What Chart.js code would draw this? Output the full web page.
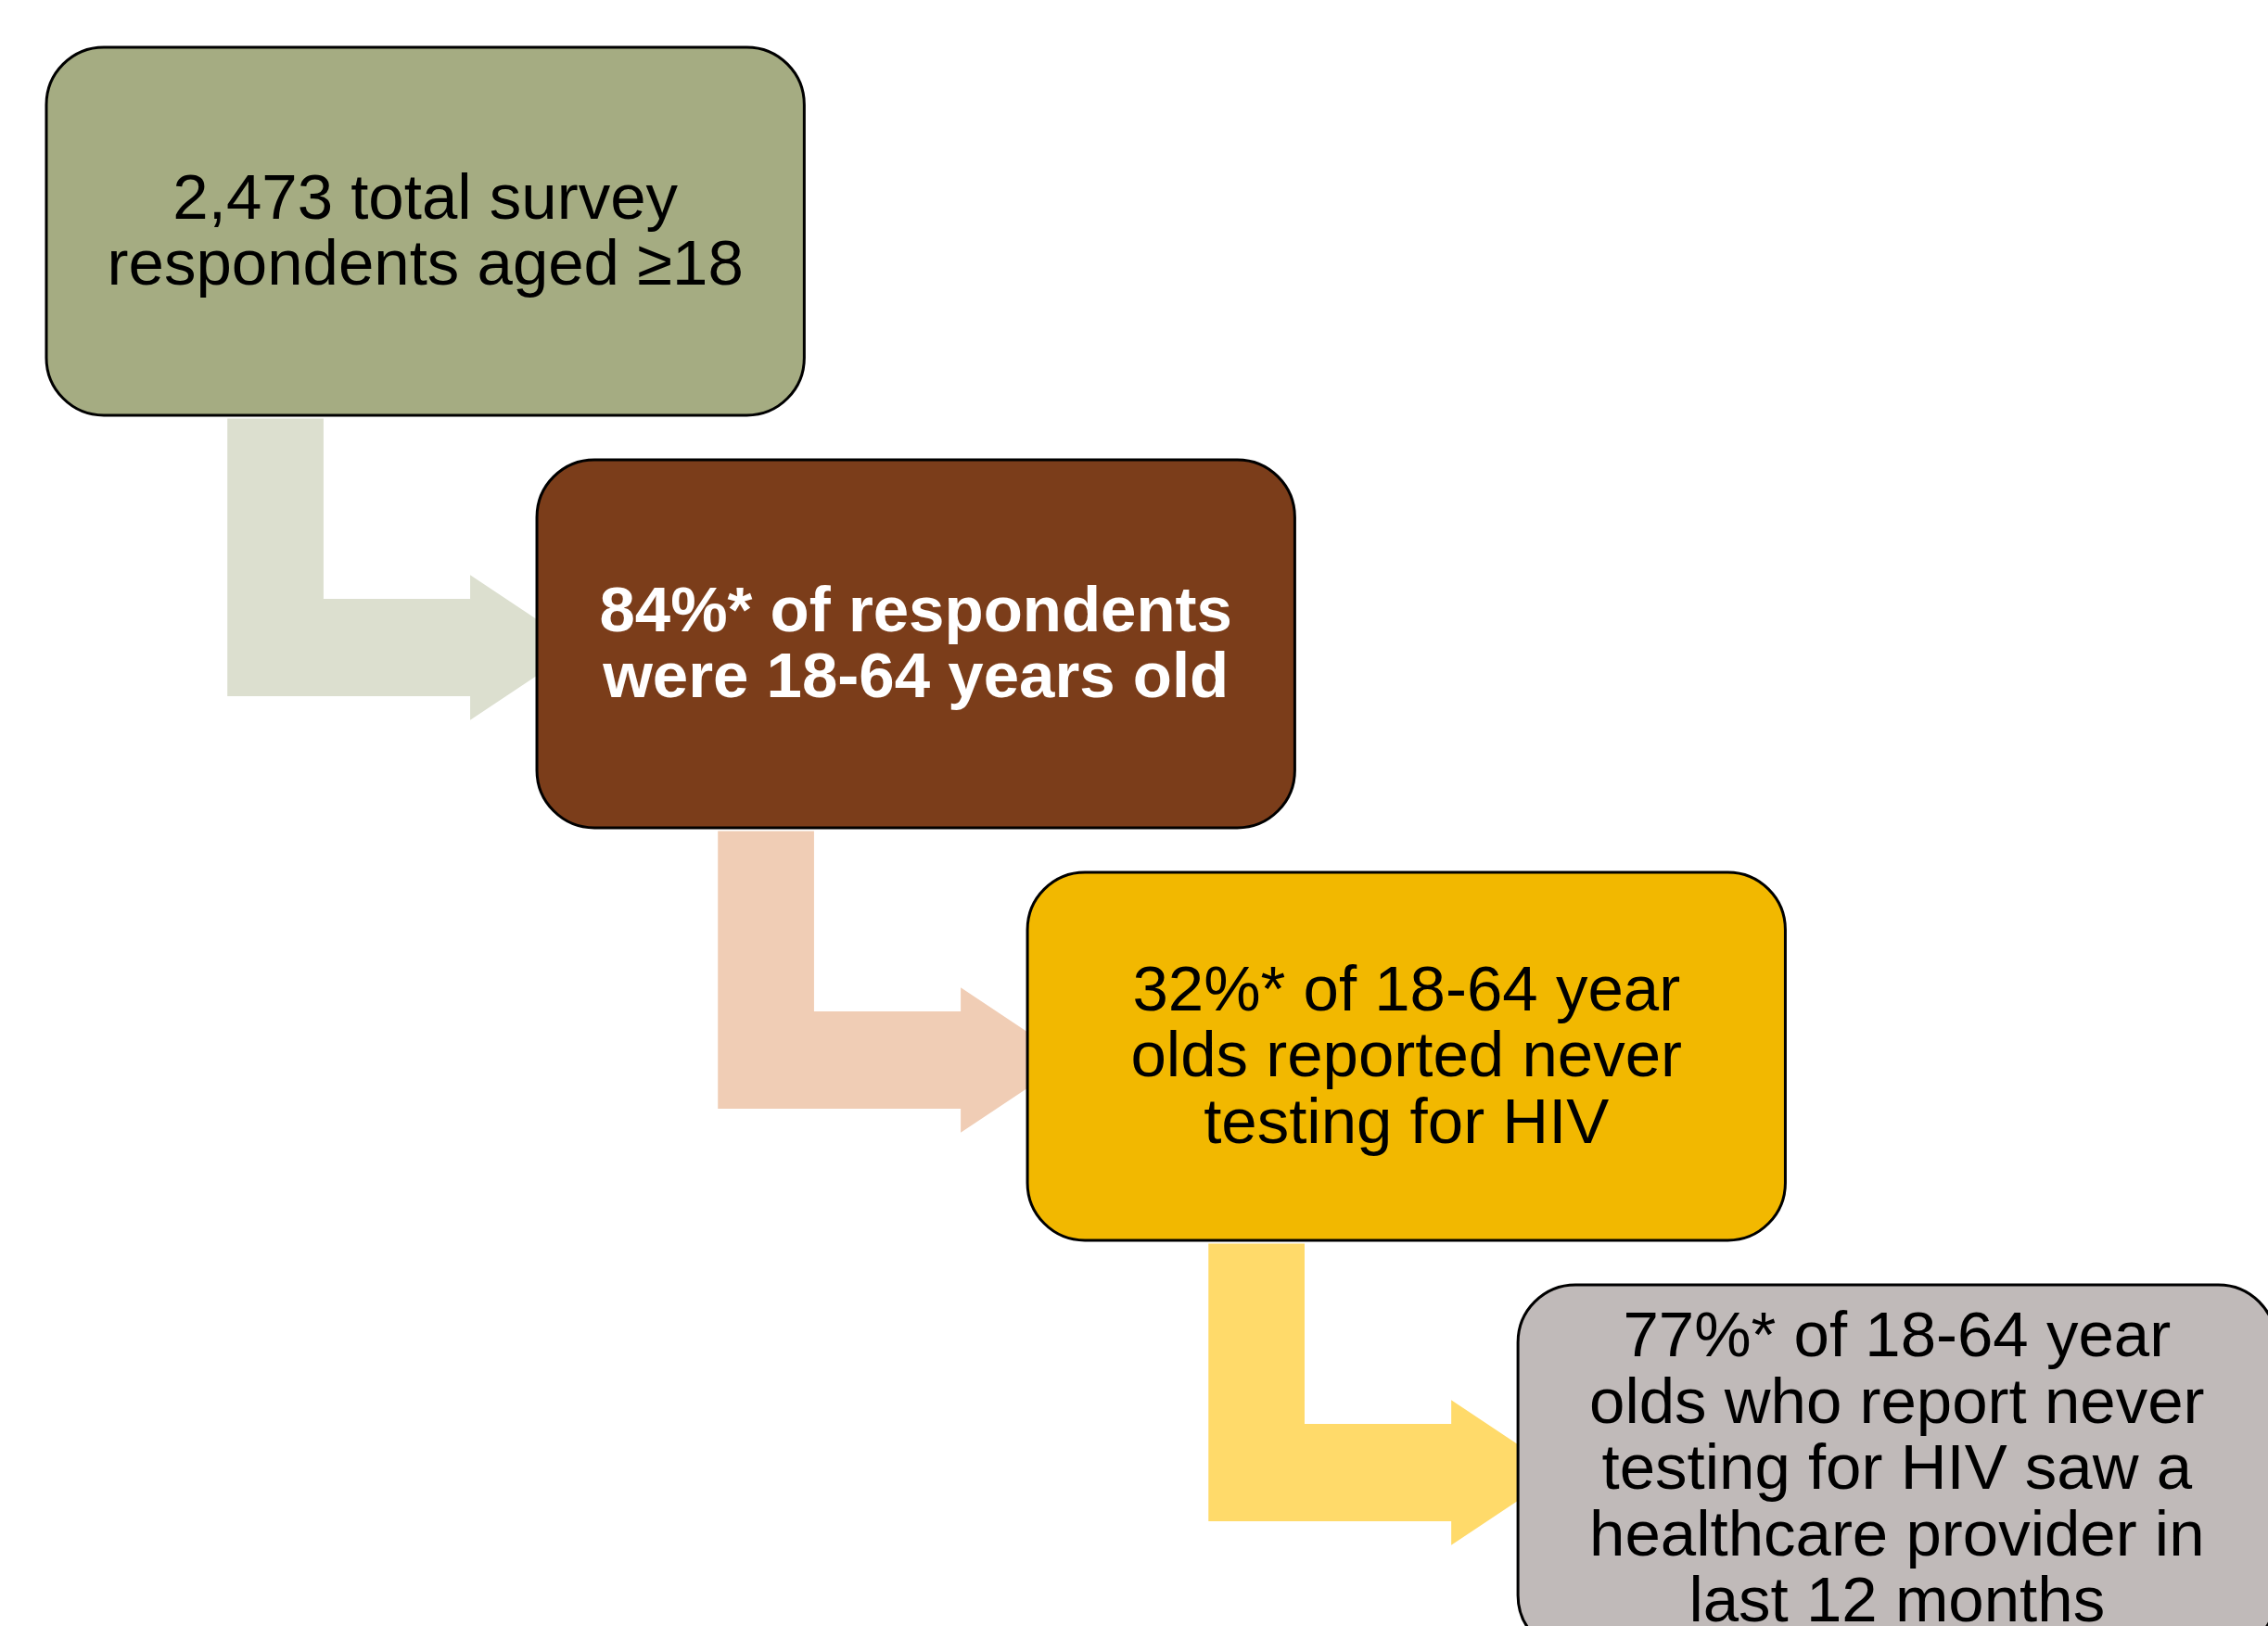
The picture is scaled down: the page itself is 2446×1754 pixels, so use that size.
<!DOCTYPE html>
<html>
<head>
<meta charset="utf-8">
<script src="https://cdn.jsdelivr.net/npm/chart.js@4/dist/chart.umd.min.js"></script>
<style>
  html, body { margin: 0; padding: 0; background: #ffffff; }
  #wrap { width: 2446px; height: 1754px; }
</style>
</head>
<body>
<div id="wrap"><canvas id="flow" width="2446" height="1754"></canvas></div>
<script>
// Cascade steps: each step sits one unit right and one unit down from the previous one
const steps = [0, 1, 2, 3];
const stepLines = [
  ["2,473 total survey", "respondents aged \u226518"],
  ["84%* of respondents", "were 18-64 years old"],
  ["32%* of 18-64 year", "olds reported never", "testing for HIV"],
  ["77%* of 18-64 year", "olds who report never", "testing for HIV saw a", "healthcare provider in", "last 12 months"]
];
const boxFills   = ["#A5AC82", "#7B3D1A", "#F2B800", "#C0BAB9"];
const textColors = ["#000000", "#ffffff", "#000000", "#000000"];
const textBold   = [false, true, false, false];
const arrowFills = ["#DCDFCF", "#F0CDB5", "#FFDA6A"];

// Box extent in step units (x and y)
const BOX_W = 1.545, BOX_H = 0.892;

const flowPlugin = {
  id: 'flowBoxes',
  afterDatasetsDraw(chart) {
    const ctx = chart.ctx;
    const xs = chart.scales.x, ys = chart.scales.y;
    const px = v => xs.getPixelForValue(v);
    const py = v => ys.getPixelForValue(v);

    // bent arrows linking each step to the next
    for (let i = 0; i < steps.length - 1; i++) {
      const s = steps[i];
      const shaftL = px(s + 0.369), shaftR = px(s + 0.565);
      const top = py(s + BOX_H + 0.008);
      const midY = py(s + 1 + BOX_H / 2 + 0.009);
      const half = py(s + 1 + 0.118) - py(s + 1);
      const headHalf = py(s + 1 + 0.176) - py(s + 1);
      const baseX = px(s + 1 - 0.136);
      const tipX = px(s + 1 - 0.136 + 0.222);
      ctx.save();
      ctx.fillStyle = arrowFills[i];
      ctx.beginPath();
      ctx.moveTo(shaftL, top);
      ctx.lineTo(shaftR, top);
      ctx.lineTo(shaftR, midY - half);
      ctx.lineTo(baseX, midY - half);
      ctx.lineTo(baseX, midY - headHalf);
      ctx.lineTo(tipX, midY);
      ctx.lineTo(baseX, midY + headHalf);
      ctx.lineTo(baseX, midY + half);
      ctx.lineTo(shaftL, midY + half);
      ctx.closePath();
      ctx.fill();
      ctx.restore();
    }

    // rounded step boxes with their text
    const meta = chart.getDatasetMeta(0);
    steps.forEach((s, i) => {
      const left = px(s), right = px(s + BOX_W);
      const top = py(s), bottom = py(s + BOX_H);
      ctx.save();
      ctx.beginPath();
      ctx.roundRect(left, top, right - left, bottom - top, 62);
      ctx.fillStyle = boxFills[i];
      ctx.fill();
      ctx.lineWidth = 3;
      ctx.strokeStyle = '#000000';
      ctx.stroke();

      const pt = meta.data[i];
      const lines = stepLines[i];
      const lh = 71.5;
      ctx.fillStyle = textColors[i];
      ctx.font = (textBold[i] ? 'bold ' : '') + '69px "Liberation Sans", Arial, sans-serif';
      ctx.textAlign = 'center';
      ctx.textBaseline = 'middle';
      lines.forEach((ln, k) => {
        ctx.fillText(ln, pt.x, pt.y + 3 + (k - (lines.length - 1) / 2) * lh);
      });
      ctx.restore();
    });
  }
};

new Chart(document.getElementById('flow'), {
  type: 'scatter',
  data: {
    datasets: [{
      data: steps.map(s => ({ x: s + BOX_W / 2, y: s + BOX_H / 2 })),
      pointRadius: 0,
      pointHoverRadius: 0
    }]
  },
  options: {
    responsive: false,
    devicePixelRatio: 1,
    animation: false,
    events: [],
    layout: { padding: 0 },
    plugins: { legend: { display: false }, tooltip: { enabled: false } },
    scales: {
      x: { type: 'linear', display: false, min: -0.0945, max: 4.529 },
      y: { type: 'linear', display: false, reverse: true, min: -0.1146, max: 3.827 }
    }
  },
  plugins: [flowPlugin]
});
</script>
</body>
</html>
